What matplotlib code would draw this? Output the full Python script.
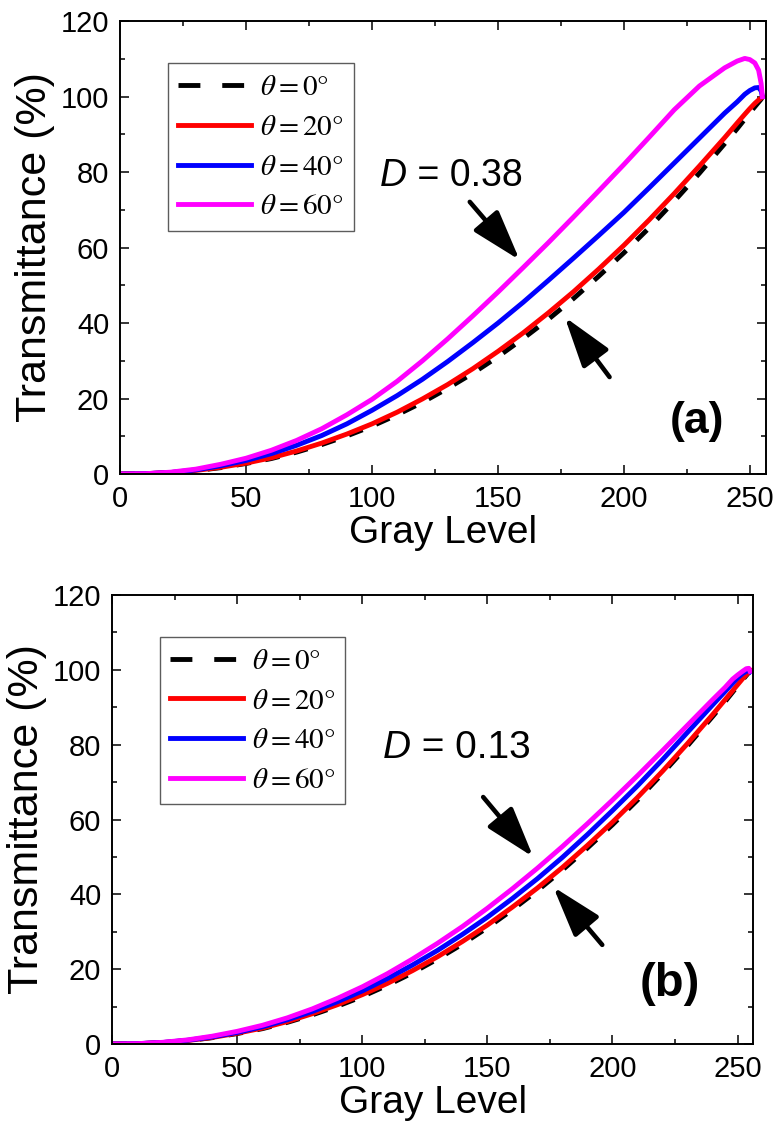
import numpy as np
import matplotlib
matplotlib.use("Agg")
import matplotlib.pyplot as plt

plt.rcParams['font.family'] = ['Liberation Sans', 'DejaVu Sans']
plt.rcParams['mathtext.fontset'] = 'stix'

gray = [0, 10, 20, 30, 40, 50, 60, 70, 80, 90, 100, 110, 120, 130, 140, 150,
        160, 170, 180, 190, 200, 210, 220, 230, 240, 245, 248, 250, 252, 253.5, 254.5, 255]

# panel (a), D = 0.38
a_t0 = [0, 0.08, 0.37, 0.9, 1.7, 2.8, 4.1, 5.8, 7.8, 10.1, 12.7, 15.7, 19.0, 22.7, 26.7, 31.1,
        35.9, 41.0, 46.5, 52.4, 58.6, 65.2, 72.3, 79.7, 87.5, 91.5, 94.0, 95.7, 97.3, 98.5, 99.3, 100]
a_t20 = [0, 0.1, 0.4, 0.95, 1.8, 2.9, 4.3, 6.1, 8.2, 10.6, 13.3, 16.4, 19.9, 23.7, 27.9, 32.5,
         37.4, 42.7, 48.3, 54.3, 60.6, 67.3, 74.3, 81.6, 89.1, 93.0, 95.3, 96.8, 98.2, 99.1, 99.6, 100]
a_t40 = [0, 0.1, 0.4, 1.1, 2.2, 3.6, 5.4, 7.6, 10.2, 13.3, 16.9, 20.8, 25.1, 29.8, 34.8, 40.0,
         45.5, 51.3, 57.2, 63.2, 69.3, 75.8, 82.4, 89.0, 95.6, 98.6, 100.6, 101.6, 102.3, 102.4, 101.5, 100]
a_t60 = [0, 0.1, 0.5, 1.3, 2.6, 4.2, 6.3, 8.9, 12.0, 15.7, 19.8, 24.6, 30.0, 35.8, 41.9, 48.2,
         54.7, 61.3, 68.1, 75.0, 82.0, 89.2, 96.5, 102.8, 107.6, 109.4, 110.1, 109.8, 108.9, 107.0, 103.5, 100]

# panel (b), D = 0.13
b_t0 = a_t0
b_t20 = [0, 0.08, 0.38, 0.92, 1.75, 2.9, 4.25, 6.0, 8.1, 10.5, 13.2, 16.2, 19.6, 23.3, 27.4, 31.8,
         36.6, 41.7, 47.2, 53.1, 59.3, 65.9, 72.9, 80.3, 88.0, 92.0, 94.4, 96.0, 97.6, 98.7, 99.4, 100]
b_t40 = [0, 0.1, 0.4, 1.0, 1.9, 3.1, 4.6, 6.5, 8.7, 11.3, 14.2, 17.5, 21.1, 25.0, 29.3, 33.9,
         38.9, 44.2, 49.9, 56.0, 62.4, 69.0, 76.0, 83.3, 90.6, 94.2, 96.4, 97.8, 99.0, 99.6, 99.8, 99.5]
b_t60 = [0, 0.1, 0.45, 1.1, 2.1, 3.4, 5.0, 7.0, 9.4, 12.2, 15.3, 18.8, 22.7, 26.9, 31.4, 36.3,
         41.5, 47.0, 52.8, 58.9, 65.2, 71.7, 78.4, 85.2, 92.0, 95.3, 97.5, 98.6, 99.6, 100.3, 100.4, 99.6]

labels = [r'$\theta = 0\degree$', r'$\theta = 20\degree$', r'$\theta = 40\degree$', r'$\theta = 60\degree$']
colors = ['black', '#ff0000', '#0000ff', '#ff00ff']

panels = [
    ([0.1548, 0.5790, 0.8306, 0.4023], [a_t0, a_t20, a_t40, a_t60], '0.38', (103, 79), 27,
     [((138.8, 72.1), (158.6, 56.7)), ((194.3, 25.7), (176.5, 41.6))], '(a)', (229, 14), 32),
    ([0.1445, 0.0728, 0.8250, 0.3988], [b_t0, b_t20, b_t40, b_t60], '0.13', (108, 79), 28,
     [((148.3, 66.0), (168.3, 50.0)), ((195.9, 26.5), (176.3, 42.0))], '(b)', (223, 16), 34),
]

fig = plt.figure(figsize=(7.77, 11.26), dpi=100)

for rect, series, dval, dpos, dsize, arrows, tag, tagpos, tagsize in panels:
    ax = fig.add_axes(rect)
    for i, ys in enumerate(series):
        if i == 0:
            ax.plot(gray, ys, color=colors[i], lw=3.5, dashes=(3, 3), label=labels[i])
        else:
            ax.plot(gray, ys, color=colors[i], lw=3.5, label=labels[i])

    ax.set_xlim(0, 256.3)
    ax.set_ylim(0, 120)
    ax.set_xticks([0, 50, 100, 150, 200, 250])
    ax.set_xticks(np.arange(25, 256, 50), minor=True)
    ax.set_yticks(np.arange(0, 121, 20))
    ax.set_yticks(np.arange(10, 120, 20), minor=True)
    ax.tick_params(which='both', direction='in', top=True, right=True, width=1.1)
    ax.tick_params(which='major', length=6.5, labelsize=21, pad=8)
    ax.tick_params(which='minor', length=3.5)
    for s in ax.spines.values():
        s.set_linewidth(1.4)

    ax.set_xlabel('Gray Level', fontsize=28, labelpad=1)
    ax.set_ylabel('Transmittance (%)', fontsize=31, labelpad=4)

    leg = ax.legend(loc='upper left', bbox_to_anchor=(0.074, 0.907), borderaxespad=0,
                    fontsize=21, frameon=True, fancybox=False, handlelength=2.5,
                    handletextpad=0.3, labelspacing=0.4, borderpad=0.35)
    leg.get_frame().set_edgecolor('#333333')
    leg.get_frame().set_linewidth(1.0)
    leg.get_lines()[0].set_dashes((4.5, 4.5))

    t = ax.text(dpos[0], dpos[1], 'D', fontsize=dsize, fontstyle='italic', va='center')
    ax.annotate(' = ' + dval, xy=(1, 0.5), xycoords=t, fontsize=dsize, va='center')

    for tail, tip in arrows:
        ax.annotate('', xy=tip, xytext=tail,
                    arrowprops=dict(arrowstyle='-|>,head_length=1.2,head_width=0.38',
                                    color='black', lw=3.3, mutation_scale=26, shrinkA=0, shrinkB=0))

    ax.text(tagpos[0], tagpos[1], tag, fontsize=tagsize, fontweight='bold', ha='center', va='center')

fig.savefig('out.png', dpi=100)
